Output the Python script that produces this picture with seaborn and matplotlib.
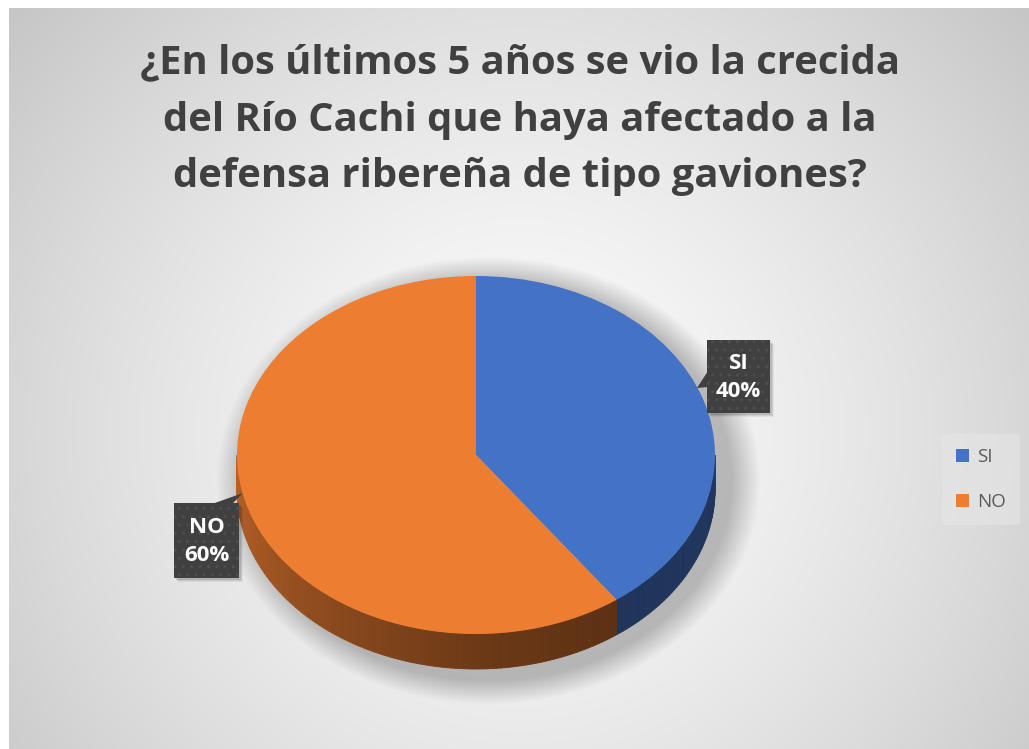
import numpy as np
import matplotlib
matplotlib.use("Agg")
import matplotlib.pyplot as plt
from matplotlib.patches import Polygon, Rectangle
import seaborn as sns

# --- data -------------------------------------------------------------
categories = ["SI", "NO"]
values = [40, 60]
title_lines = [
    "¿En los últimos 5 años se vio la crecida",
    "del Río Cachi que haya afectado a la",
    "defensa ribereña de tipo gaviones?",
]

# --- style ------------------------------------------------------------
sns.set_theme(style="white")
plt.rcParams["font.family"] = ["Open Sans", "DejaVu Sans"]
palette = sns.color_palette(["#4472C4", "#ED7D31"])

W, H = 1029, 749
fig = plt.figure(figsize=(W / 100, H / 100), dpi=100)

# pie geometry in pixels (ellipse of the top face)
cx, cy, rx, ry, depth_px = 476, 455, 239, 179, 35

# --- background: radial gradient with a soft shadow under the pie -------
bg = fig.add_axes([0, 0, 1, 1], zorder=0)
bg.set_xlim(0, W)
bg.set_ylim(H, 0)
bg.axis("off")
yy, xx = np.mgrid[8:H, 9:W].astype(float)
d = np.hypot(xx - 520, yy - 430)
val = 252 - 54 * np.clip(d / 660, 0, 1.2) ** 1.4
r = np.hypot((xx - 488) / 243, (yy - 480) / 200)
shadow = 0.24 * np.clip(1 - (r - 1) * 200 / 24, 0, 1)
val = val * (1 - shadow)
img = np.clip(val / 255, 0, 1)
bg.imshow(np.dstack([img, img, img]), extent=[9, W, H, 8], aspect="auto",
          interpolation="bilinear", zorder=0)

# --- pie axes: unit circle stretched to the ellipse --------------------
xpad, ytop, ybot = 1.05, 1.05, 1.05 + depth_px / ry + 0.1
left_px, right_px = cx - rx * xpad, cx + rx * xpad
top_px, bot_px = cy - ry * ytop, cy + ry * ybot
ax = fig.add_axes([left_px / W, 1 - bot_px / H, (right_px - left_px) / W,
                   (bot_px - top_px) / H], zorder=1)
wedges, _ = ax.pie(values, colors=palette, startangle=90, counterclock=False,
                   radius=1, center=(0, 0), wedgeprops=dict(linewidth=0))
for w in wedges:
    w.set_zorder(5)
ax.set_aspect("auto")
ax.set_xlim(-xpad, xpad)
ax.set_ylim(-ybot, ytop)
ax.axis("off")

# side wall of the 3-D pie, drawn in thin shaded strips
depth = depth_px / ry
side_curves = {
    "SI": ([180, 306, 360], [0.46, 0.46, 0.48]),
    "NO": ([180, 230, 270, 306, 360], [0.78, 0.60, 0.46, 0.39, 0.39]),
}
total = float(sum(values))
start = 90.0
for cat, v, col in zip(categories, values, palette):
    end = start - 360 * v / total
    lo, hi = end, start
    for shift in (-360, 0, 360):
        a, b = max(lo + shift, 180), min(hi + shift, 360)
        if b <= a:
            continue
        ts = np.linspace(a, b, int(np.ceil(b - a)) + 1)
        stops, facs = side_curves[cat]
        for t0, t1 in zip(ts[:-1], ts[1:]):
            f = np.interp(0.5 * (t0 + t1), stops, facs)
            c = np.clip(np.array(col) * f, 0, 1)
            r0, r1 = np.radians(t0), np.radians(t1)
            pts = [(np.cos(r0), np.sin(r0)), (np.cos(r1), np.sin(r1)),
                   (np.cos(r1), np.sin(r1) - depth), (np.cos(r0), np.sin(r0) - depth)]
            ax.add_patch(Polygon(pts, closed=True, facecolor=c, edgecolor=c,
                                 linewidth=0.6, zorder=2))
    start = end

# --- overlay in pixel coordinates: data labels -------------------------
ov = fig.add_axes([0, 0, 1, 1], zorder=3)
ov.set_xlim(0, W)
ov.set_ylim(H, 0)
ov.axis("off")
ov.patch.set_alpha(0)

pct = [round(100 * v / total) for v in values]
label_boxes = {
    "SI": dict(box=(707, 340, 63, 73), ptr=[(708, 371), (708, 387), (697, 388)]),
    "NO": dict(box=(174, 503, 65, 75), ptr=[(212, 504), (232, 504), (243, 493)]),
}
for cat, p in zip(categories, pct):
    x0, y0, bw, bh = label_boxes[cat]["box"]
    for k, a in ((4, 0.06), (3, 0.08), (2, 0.10)):
        ov.add_patch(Rectangle((x0 + k, y0 + k), bw, bh, facecolor="black",
                               edgecolor="none", alpha=a, zorder=4))
    ov.add_patch(Polygon(label_boxes[cat]["ptr"], closed=True, facecolor="#404040",
                         edgecolor="none", zorder=5))
    ov.add_patch(Rectangle((x0, y0), bw, bh, facecolor="#404040",
                           edgecolor="#4f4f4f", linewidth=0, hatch="..", zorder=6))
    ov.text(x0 + bw / 2, y0 + bh / 2 + 1, f"{cat}\n{p}%", color="white",
            fontsize=16, fontweight="bold", ha="center", va="center",
            linespacing=1.45, zorder=7)

# --- title --------------------------------------------------------------
for i, line in enumerate(title_lines):
    fig.text(520 / W, 1 - (63 + 57 * i) / H, line, ha="center", va="center",
             fontsize=28.8, fontweight="bold", color="#404040")

# --- legend -------------------------------------------------------------
leg = ax.legend(wedges, categories, loc="upper left",
                bbox_to_anchor=(942 / W, 1 - 434 / H), bbox_transform=fig.transFigure,
                frameon=True, fontsize=13.5, handlelength=0.7, handleheight=0.7,
                handletextpad=0.4, labelspacing=1.45, borderpad=0.75, borderaxespad=0)
leg.get_frame().set_facecolor("#e6e6e6")
leg.get_frame().set_edgecolor("none")
leg.get_frame().set_alpha(0.6)
for t in leg.get_texts():
    t.set_color("#595959")

fig.savefig("out.png", dpi=100)
